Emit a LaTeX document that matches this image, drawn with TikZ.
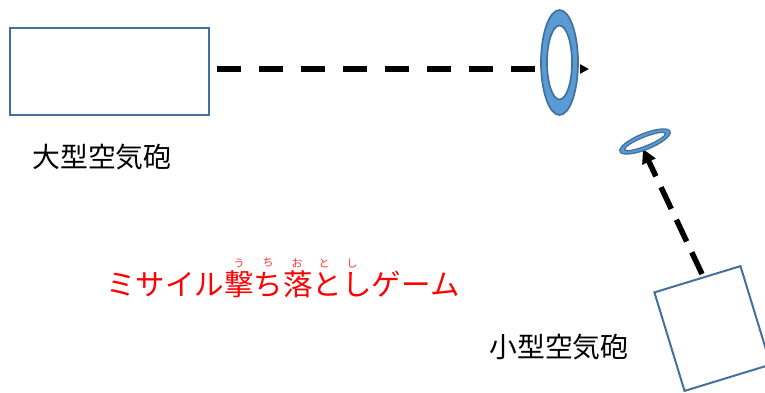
\documentclass[tikz,border=0pt]{standalone}
\usepackage{fontspec}
\newfontfamily\jp{Noto Sans CJK JP}
\usetikzlibrary{arrows.meta}
\definecolor{boxblue}{HTML}{41719C}
\definecolor{ringfill}{HTML}{5B9BD5}
\tikzset{
  x=1pt,y=-1pt,
  cannon/.style={draw=boxblue,line width=2pt,fill=white,inner sep=0pt},
  shot/.style={line width=5.5pt,dash pattern=on 24pt off 18pt,-{Triangle[length=9pt,width=9pt]}},
  label/.style={font=\jp\fontsize{27.8}{32}\selectfont,inner sep=0pt},
  title/.style={font=\jp\fontsize{29.5}{34}\selectfont,text=red,inner sep=0pt},
  ruby/.style={font=\jp\fontsize{11}{13}\selectfont,text=red!80,inner sep=0pt},
}
\begin{document}
\begin{tikzpicture}
\useasboundingbox (0,0) rectangle (765,392);
% large cannon
\node[cannon,minimum width=199pt,minimum height=87pt] (big) at (109.5,71.5) {};
\node[label] (bigl) at (102,157) {大型空気砲};
\coordinate (bigtip) at (589,69);
\draw[shot] (big.east |- 0,69) ++(7,0) coordinate (bigstart) -- (bigtip);
% large ring
\coordinate (ring1) at (559.5,62.5);
\fill[ringfill,even odd rule] (ring1) ellipse [x radius=18.5,y radius=52.5] (ring1) ellipse [x radius=12.5,y radius=37];
\fill[white] (ring1) ellipse [x radius=12.5,y radius=37];
\draw[boxblue,line width=1.7pt] (ring1) ellipse [x radius=18.5,y radius=52.5];
\draw[boxblue,line width=1.7pt] (ring1) ellipse [x radius=12.5,y radius=37];
% small cannon
\node[cannon,minimum width=90pt,minimum height=103pt,rotate=17] (small) at (712.5,328.5) {};
\node[label] (smalll) at (559,347) {小型空気砲};
\coordinate (smstart) at (702,274);
\coordinate (smtip) at (643,149);
\draw[shot,dash pattern=on 24pt off 12pt,-{Triangle[length=14pt,width=14pt]}] (smstart) -- (smtip);
% small ring
\coordinate (ring2) at (645,141.5);
\begin{scope}[rotate around={22:(ring2)}]
\fill[ringfill,even odd rule] (ring2) ellipse [x radius=27,y radius=8] (ring2) ellipse [x radius=22,y radius=4.5];
\fill[white] (ring2) ellipse [x radius=22,y radius=4.5];
\draw[boxblue,line width=1.3pt] (ring2) ellipse [x radius=27,y radius=8];
\draw[boxblue,line width=1.3pt] (ring2) ellipse [x radius=22,y radius=4.5];
\end{scope}
% title
\node[title] (title) at (283,284) {ミサイル撃ち落としゲーム};
\node[ruby] (r1) at (239,263) {う};
\node[ruby] (r2) at (268,263) {ち};
\node[ruby] (r3) at (297,263) {お};
\node[ruby] (r4) at (324,263) {と};
\node[ruby] (r5) at (352,263) {し};
\end{tikzpicture}
\end{document}
